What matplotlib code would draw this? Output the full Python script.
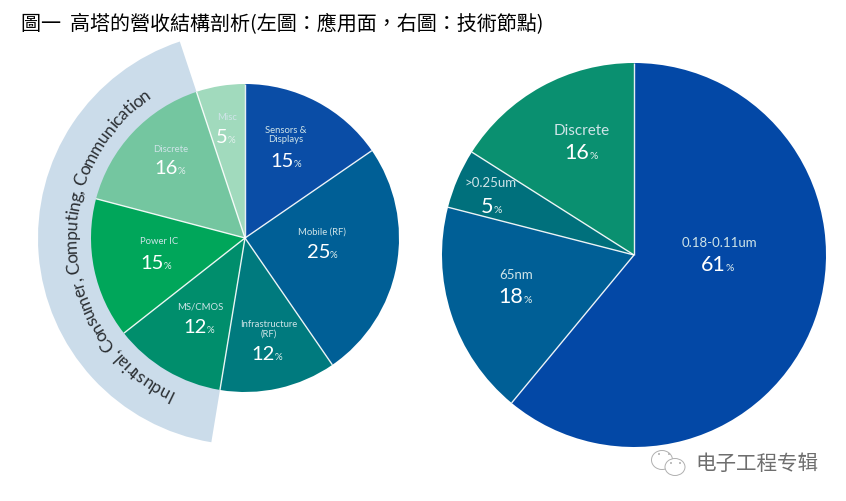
import matplotlib
matplotlib.use("Agg")
import matplotlib.pyplot as plt
import numpy as np
from matplotlib.font_manager import FontProperties
from matplotlib.patches import Ellipse

W, H = 846, 501

# left pie: by application
left_names = ["Sensors &\nDisplays", "Mobile (RF)", "Infrastructure\n(RF)", "MS/CMOS",
              "Power IC", "Discrete", "Misc"]
left_values = [15, 25, 12, 12, 15, 16, 5]
# the drawn wedges are not exactly the printed numbers, read these off the picture
left_shares = [15.4, 25.0, 12.2, 11.8, 14.7, 15.8, 5.1]
left_colors = ["#0A4DA6", "#005F96", "#007A7E", "#008E6C", "#00A65A", "#74C6A0", "#A1DABD"]

# right pie: by technology node
right_names = ["0.18-0.11um", "65nm", ">0.25um", "Discrete"]
right_values = [61, 18, 5, 16]
right_colors = ["#0348A6", "#005F96", "#00707C", "#0A9070"]

# the band behind the left pie covers MS/CMOS, Power IC and Discrete
band_values = [52.6, 42.3, 5.1]
band_text = "Industrial, Consumer, Computing, Communication"

# full width colon and comma
title = "圖一  高塔的營收結構剖析(左圖\uff1a應用面\uff0c右圖\uff1a技術節點)"
watermark = "电子工程专辑"

# label spots in picture pixels (x of name, y of name, x where number ends, y of number)
left_spots = [(286, 135, 294, 160), (322, 232, 330, 251), (269, 329, 275, 353),
              (200, 307, 207, 326), (159, 241, 164, 262), (171, 149, 178, 167),
              (227, 117, 228, 136)]
right_spots = [(719, 243, 726, 264), (516, 275, 523, 296), (491, 183, 493, 206),
               (582, 131, 589, 152)]

LEFT_C = (245, H - 238)
LEFT_R = 154
BAND_R = 207
RIGHT_C = (634, H - 255)
RIGHT_R = 192


def separators(ax, values, center, radius):
    # white lines between the wedges, the pie edge itself stays clean
    ang = np.radians(np.cumsum([0] + list(values[:-1])) * 3.6)
    for a in ang:
        ax.plot([center[0], center[0] + radius * np.sin(a)],
                [center[1], center[1] + radius * np.cos(a)],
                color="white", lw=1.0, alpha=0.9, solid_capstyle="butt", zorder=3)


def pie_labels(ax, names, values, spots, name_sizes, num_size, pct_size):
    for name, val, (x, y1, xn, y2), size in zip(names, values, spots, name_sizes):
        ax.text(x, H - y1, name, color="#CFE4E8", fontsize=size, ha="center",
                va="center", family="Lato", linespacing=1.05, zorder=4)
        ax.text(xn, H - y2 - 7, str(val), color="white", fontsize=num_size,
                ha="right", va="baseline", family="Lato", zorder=4)
        ax.text(xn, H - y2 - 7, "%", color="#E2F0EE", fontsize=pct_size,
                ha="left", va="baseline", family="Lato", zorder=4)


def arc_text(ax, text, center, radius, mid_angle, size, squeeze):
    fp = FontProperties(family="Lato", size=size)
    rend = fig.canvas.get_renderer()

    def adv(s):
        return rend.get_text_width_height_descent(s + "|", fp, False)[0] - \
            rend.get_text_width_height_descent("|", fp, False)[0]

    total = adv(text) * squeeze
    for i, ch in enumerate(text):
        s = (adv(text[:i]) + adv(ch) / 2) * squeeze
        theta = mid_angle + np.degrees((s - total / 2) / radius)
        t = np.radians(theta)
        ax.text(center[0] + radius * np.sin(t), center[1] + radius * np.cos(t), ch,
                fontproperties=fp, color="#2B2F33", rotation=-theta,
                rotation_mode="anchor", ha="center", va="baseline", zorder=4)


fig = plt.figure(figsize=(W / 100, H / 100), dpi=100, facecolor="white")
ax = fig.add_axes([0, 0, 1, 1])

ax.pie(band_values, colors=["none", "#CBDCEA", "none"], center=LEFT_C, radius=BAND_R,
       startangle=90, counterclock=False)
ax.pie(left_shares, colors=left_colors, center=LEFT_C, radius=LEFT_R,
       startangle=90, counterclock=False)
ax.pie(right_values, colors=right_colors, center=RIGHT_C, radius=RIGHT_R,
       startangle=90, counterclock=False)

ax.set_xlim(0, W)
ax.set_ylim(0, H)
ax.set_aspect("equal")
ax.set_axis_off()

separators(ax, left_shares, LEFT_C, LEFT_R)
separators(ax, right_values, RIGHT_C, RIGHT_R)

pie_labels(ax, left_names, left_values, left_spots, [6.8] * 7, 14.5, 7)
pie_labels(ax, right_names, right_values, right_spots, [9.5, 9.5, 9.5, 11], 15.5, 7.5)

arc_text(ax, band_text, LEFT_C, 168.5, 265.7, 12.5, 0.94)

ax.text(21, H - 25, title, fontsize=14.45, color="black", va="center", ha="left",
        family=["Noto Sans CJK TC", "DejaVu Sans"])

# wechat mark and account name
ax.text(695, H - 464, watermark, fontsize=14.8, color="#6E6E6E", va="center", ha="left",
        family=["Noto Sans CJK SC", "DejaVu Sans"])
gray = "#B0B0B0"
ax.add_patch(Ellipse((662, H - 460), 21, 19, fc="white", ec=gray, lw=0.7, zorder=5))
ax.add_patch(Ellipse((675, H - 467), 20, 17, fc="white", ec=gray, lw=0.7, zorder=6))
for ex, ey in [(659, 454), (669, 454), (671, 463), (680, 463)]:
    ax.add_patch(Ellipse((ex, H - ey), 2, 2, fc=gray, ec="none", zorder=7))

fig.savefig("out.png", dpi=100)
